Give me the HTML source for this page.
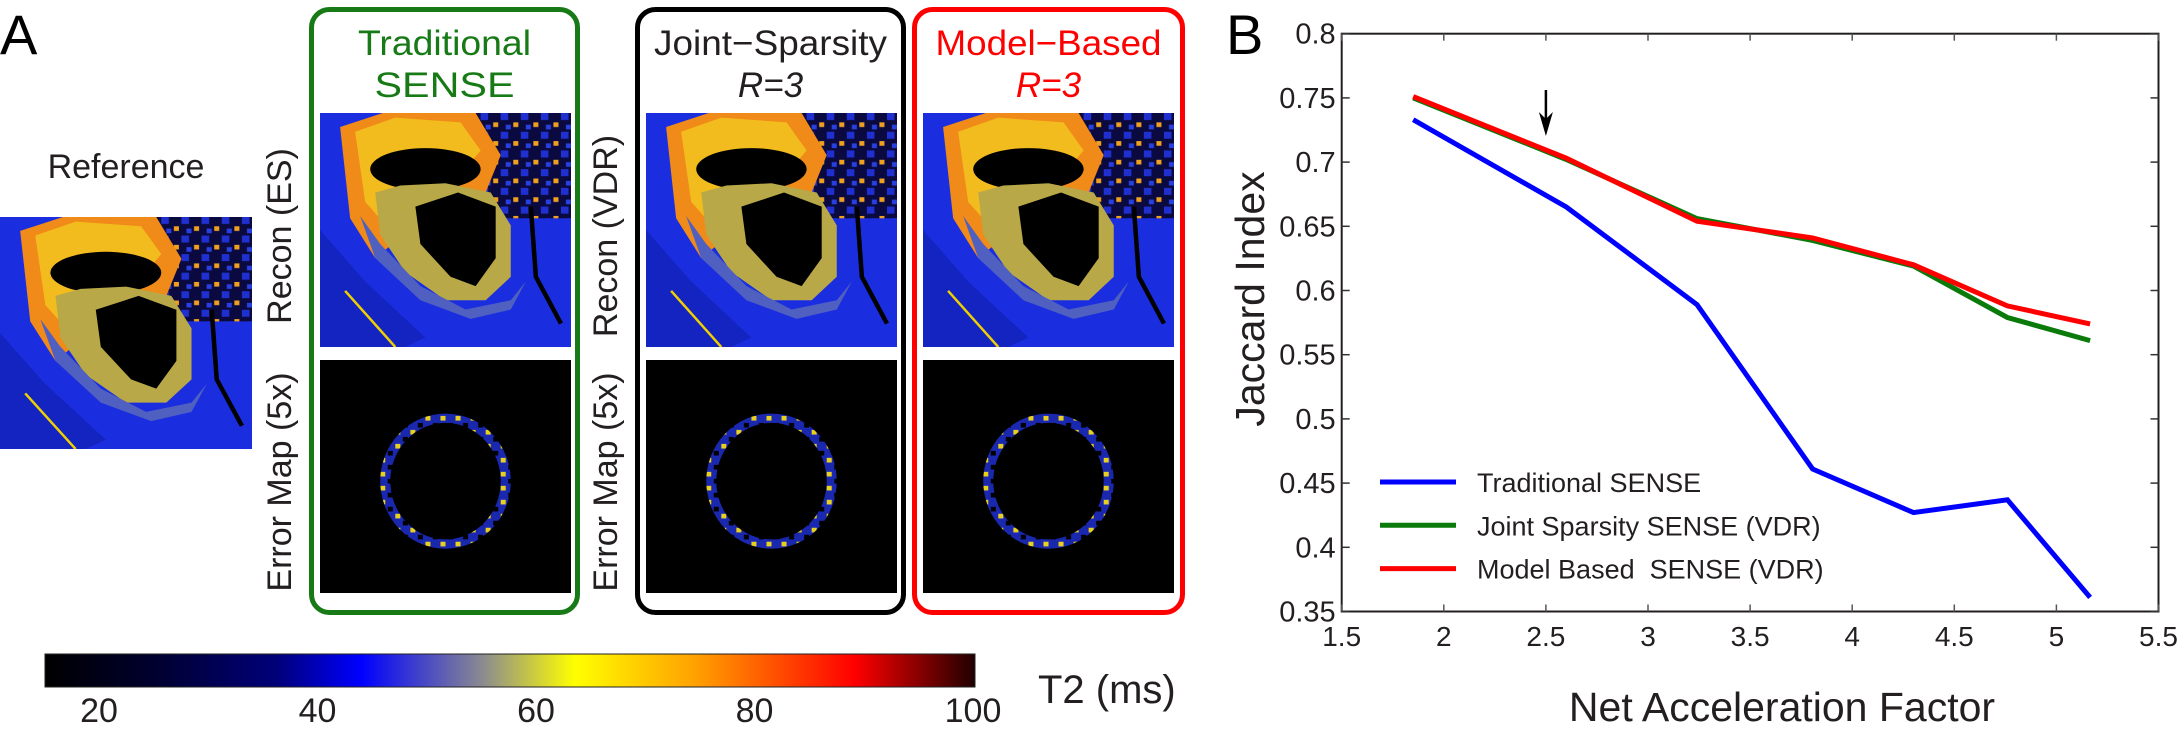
<!DOCTYPE html>
<html><head><meta charset="utf-8"><style>
html,body{margin:0;padding:0;background:#fff;}
body{width:2180px;height:735px;position:relative;overflow:hidden;font-family:"Liberation Sans",Arial,sans-serif;}
svg{position:absolute;left:0;top:0;}
</style></head><body>
<svg id="fig" width="2180" height="735" viewBox="0 0 2180 735">
<defs>
<linearGradient id="cbar" x1="0" x2="1" y1="0" y2="0">
<stop offset="0" stop-color="#000000"/><stop offset="0.12" stop-color="#000030"/>
<stop offset="0.25" stop-color="#00007a"/><stop offset="0.34" stop-color="#0000ff"/>
<stop offset="0.47" stop-color="#8a8a90"/><stop offset="0.57" stop-color="#ffff00"/>
<stop offset="0.7" stop-color="#ffa000"/><stop offset="0.87" stop-color="#ff0000"/>
<stop offset="1" stop-color="#200000"/></linearGradient>
<pattern id="speck" width="8" height="8" patternUnits="userSpaceOnUse">
<rect width="8" height="8" fill="#0a0a40"/><rect x="0" y="0" width="3" height="3" fill="#2030d0"/><rect x="5" y="4" width="2" height="2" fill="#f0a020"/><rect x="2" y="5" width="2" height="2" fill="#2840e0"/></pattern>
<pattern id="ringsp" width="6" height="6" patternUnits="userSpaceOnUse">
<rect width="6" height="6" fill="#1a28b0"/><rect x="0" y="0" width="2" height="2" fill="#e8d020"/><rect x="3" y="3" width="2" height="2" fill="#000"/></pattern>
</defs>
<g id="panelA"></g>
<g id="chart"></g>
</svg>
<script>
const NS='http://www.w3.org/2000/svg';
function mk(parent,tag,attrs,text){const e=document.createElementNS(NS,tag);for(const k in attrs)e.setAttribute(k,attrs[k]);if(text!==undefined)e.textContent=text;parent.appendChild(e);return e;}

/* ---------- Panel A ---------- */
const A=document.getElementById('panelA');
function reconMap(x,y,w,h,name){
  const g=mk(A,'svg',{x:x,y:y,width:w,height:h,viewBox:'0 0 100 100',preserveAspectRatio:'none'});
  
  
  mk(g,'rect',{width:100,height:100,fill:'#1a2ee0'});
  mk(g,'rect',{x:62,y:0,width:38,height:45,fill:'url(#speck)'});
  mk(g,'path',{d:'M8 6 L25 0 L62 0 L72 18 L66 34 L45 40 L30 55 L22 62 L12 45 Z',fill:'#f08a18'});
  mk(g,'path',{d:'M14 8 L30 2 L56 4 L64 16 L56 26 L40 36 L28 50 L18 38 Z',fill:'#f4c820',opacity:'0.8'});
  mk(g,'ellipse',{cx:42,cy:24,rx:22,ry:9,fill:'#000'});
  mk(g,'path',{d:'M22 34 L24 52 L34 68 L50 80 L66 80 L76 70 L76 48 L68 34 L50 30 L32 31 Z',fill:'#b8a848'});
  mk(g,'path',{d:'M16 44 L22 62 L40 80 L60 88 L76 84 L82 72 L76 80 L58 84 L40 74 L24 56 Z',fill:'#5060c0'});
  mk(g,'path',{d:'M38 40 L55 34 L70 40 L70 62 L62 74 L52 70 L40 56 Z',fill:'#000'});
  mk(g,'path',{d:'M0 50 L18 72 L42 96 L34 100 L0 100 Z',fill:'#1424c0'});
  mk(g,'path',{d:'M10 76 L30 100',stroke:'#f0d000','stroke-width':1,fill:'none'});
  mk(g,'path',{d:'M84 40 L86 70 L96 90',stroke:'#000','stroke-width':1.8,fill:'none'});
}
function errMap(x,y,w,h,name){
  const g=mk(A,'svg',{x:x,y:y,width:w,height:h,viewBox:'0 0 100 100',preserveAspectRatio:'none'});
  
  
  mk(g,'rect',{width:100,height:100,fill:'#000'});
  mk(g,'ellipse',{cx:50,cy:52,rx:24,ry:27,fill:'none',stroke:'url(#ringsp)','stroke-width':4});
}
function vlabel(x,cy,txt,name){
  const t=mk(A,'text',{x:0,y:0,transform:`translate(${x},${cy}) rotate(-90)`,'text-anchor':'middle','font-size':34,fill:'#231f20'},txt);
  
  
}
let t;
t=mk(A,'text',{x:0,y:54,'font-size':56,fill:'#000'},'A');

t=mk(A,'text',{x:126,y:178,'text-anchor':'middle','font-size':34,fill:'#231f20'},'Reference');

reconMap(0,217,252,232,'reference-map');

const boxes=[
 {x:309,w:271,c:'#177a17',t1:'Traditional',tl:173,t2:'SENSE',it:false,lab:'Recon (ES)',name:'traditional-sense'},
 {x:635,w:271,c:'#000',t1:'Joint\u2212Sparsity',tl:233,t2:'R=3',it:true,lab:'Recon (VDR)',name:'joint-sparsity'},
 {x:912,w:273,c:'#ff0000',t1:'Model\u2212Based',tl:226,t2:'R=3',it:true,lab:null,name:'model-based'}];
boxes.forEach(b=>{
  const r=mk(A,'rect',{x:b.x+2.5,y:9.5,width:b.w-5,height:603,rx:18,fill:'none',stroke:b.c,'stroke-width':5});
  
  const cx=b.x+b.w/2;
  const col=b.c==='#000'?'#231f20':b.c;
  const t1=mk(A,'text',{x:cx,y:55,'text-anchor':'middle','font-size':35,fill:col,textLength:b.tl,lengthAdjust:'spacingAndGlyphs'},b.t1);
  
  const t2=mk(A,'text',{x:cx,y:97,'text-anchor':'middle','font-size':35,fill:col,'font-style':b.it?'italic':'normal'},b.t2);
  if(!b.it){t2.setAttribute('textLength',140);t2.setAttribute('lengthAdjust','spacingAndGlyphs');}
  
  reconMap(b.x+11,113,251,234,b.name+'-recon-map');
  errMap(b.x+11,360,251,233,b.name+'-error-map');
  if(b.lab){vlabel(b.x-18,236,b.lab,b.name+'-recon-label');vlabel(b.x-18,482,'Error Map (5x)',b.name+'-error-label');}
});

const cb=mk(A,'rect',{x:45,y:654,width:930,height:33,fill:'url(#cbar)',stroke:'#222','stroke-width':1});

const cbTicks=[20,40,60,80,100];
cbTicks.forEach((v,i)=>{
  const x=99+(v-20)/20*218.5;
  const tt=mk(A,'text',{x:x,y:722,'text-anchor':'middle','font-size':34,fill:'#231f20'},String(v));
  
});
t=mk(A,'text',{x:1038,y:703,'font-size':40,fill:'#231f20'},'T2 (ms)');

</script>
<script>
/* ---------- Panel B chart data ---------- */
const xVals=[1.85,2.6,3.24,3.806,4.30,4.76,5.165];
const traditional=[0.733,0.665,0.589,0.461,0.427,0.437,0.361];
const jointSparsity=[0.750,0.702,0.656,0.639,0.619,0.579,0.561];
const modelBased=[0.751,0.703,0.654,0.641,0.620,0.588,0.574];
const xTicks=[1.5,2,2.5,3,3.5,4,4.5,5,5.5];
const xTickLabels=['1.5','2','2.5','3','3.5','4','4.5','5','5.5'];
const yTicks=[0.35,0.4,0.45,0.5,0.55,0.6,0.65,0.7,0.75,0.8];
const yTickLabels=['0.35','0.4','0.45','0.5','0.55','0.6','0.65','0.7','0.75','0.8'];
const arrowX=2.5;

const C=document.getElementById('chart');
const L=1341.7,R=2158.5,T=33.7,B=611.5;
const xs=v=>L+(v-1.5)/4*(R-L);
const ys=v=>B-(v-0.35)/0.45*(B-T);
let e;
e=mk(C,'text',{x:1226,y:54,'font-size':56,fill:'#000'},'B');

e=mk(C,'rect',{x:L,y:T,width:R-L,height:B-T,fill:'none',stroke:'#231f20','stroke-width':2});

xTicks.forEach((v,i)=>{
  const x=xs(v);
  mk(C,'line',{x1:x,x2:x,y1:B,y2:B-7,stroke:'#555','stroke-width':1.5});
  mk(C,'line',{x1:x,x2:x,y1:T,y2:T+7,stroke:'#555','stroke-width':1.5});
  const tl=mk(C,'text',{x:x,y:646,'text-anchor':'middle','font-size':28,fill:'#231f20'},xTickLabels[i]);
  
});
yTicks.forEach((v,i)=>{
  const y=ys(v);
  mk(C,'line',{x1:L,x2:L+8,y1:y,y2:y,stroke:'#333','stroke-width':1.5});
  mk(C,'line',{x1:R,x2:R-8,y1:y,y2:y,stroke:'#333','stroke-width':1.5});
  const tl=mk(C,'text',{x:L-6,y:y+10,'text-anchor':'end','font-size':29,fill:'#231f20'},yTickLabels[i]);
  
});
e=mk(C,'text',{x:1782,y:721,'text-anchor':'middle','font-size':41,fill:'#231f20'},'Net Acceleration Factor');

e=mk(C,'text',{x:0,y:0,transform:'translate(1264,299) rotate(-90)','text-anchor':'middle','font-size':41,fill:'#231f20'},'Jaccard Index');


const series=[
 {vals:traditional,c:'#0000ff',label:'Traditional SENSE',name:'traditional-sense'},
 {vals:jointSparsity,c:'#0a7a0a',label:'Joint Sparsity SENSE (VDR)',name:'joint-sparsity-sense'},
 {vals:modelBased,c:'#ff0000',label:'Model Based  SENSE (VDR)',name:'model-based-sense'}];
series.forEach((s,k)=>{
  const pts=s.vals.map((v,i)=>xs(xVals[i]).toFixed(1)+','+ys(v).toFixed(1)).join(' ');
  const pl=mk(C,'polyline',{points:pts,fill:'none',stroke:s.c,'stroke-width':5,'stroke-linejoin':'miter'});
  
  const ly=482+k*43.3;
  const ll=mk(C,'line',{x1:1380,x2:1456,y1:ly,y2:ly,stroke:s.c,'stroke-width':5});
  
  const lt=mk(C,'text',{x:1477,y:ly+10,'font-size':27,fill:'#231f20'},s.label);
  lt.setAttribute('style','white-space:pre');
  
});
const ax=xs(arrowX);
e=mk(C,'line',{x1:ax,x2:ax,y1:90,y2:124,stroke:'#000','stroke-width':2.5});

mk(C,'path',{d:`M${ax-7} 112 L${ax} 136 L${ax+7} 112 L${ax} 119 Z`,fill:'#000'});
</script>
</body></html>
